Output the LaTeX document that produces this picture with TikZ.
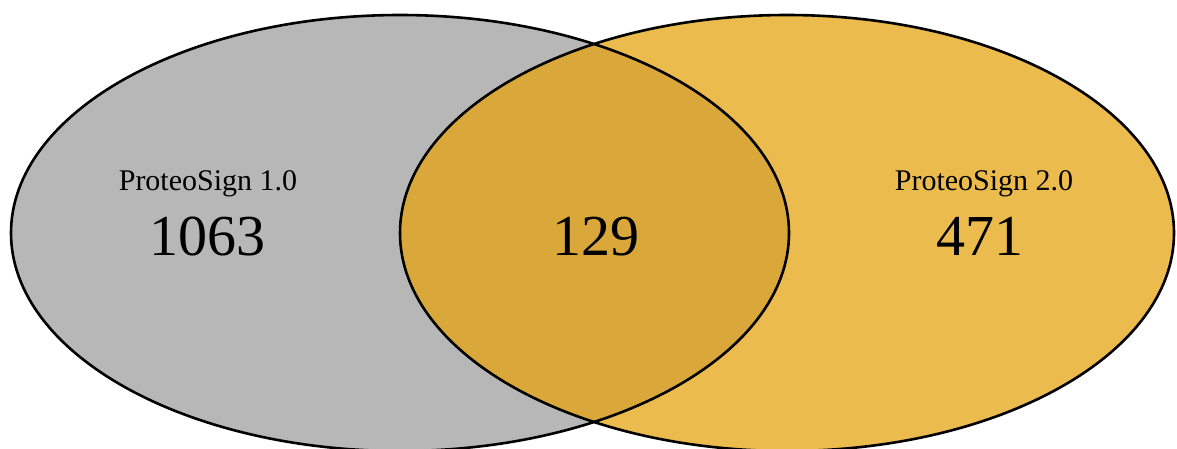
\documentclass[tikz,border=0pt]{standalone}
\usepackage{fontspec}
\setmainfont{Liberation Serif}
\usetikzlibrary{positioning}
\definecolor{setgray}{RGB}{183,183,183}
\definecolor{setgold}{RGB}{236,187,77}
\definecolor{setboth}{RGB}{217,167,58}

\begin{document}
\begin{tikzpicture}[x=1pt,y=-1pt,
 setline/.style={draw=black,line width=2.6pt},
 setname/.style={font=\fontsize{30}{30}\selectfont,anchor=base},
 setcount/.style={font=\fontsize{58}{58}\selectfont,anchor=base}]
\useasboundingbox (0,0) rectangle (1177,448);
% the two sets
\fill[setgray] (400,233) ellipse [x radius=389,y radius=218];
\fill[setgold] (787,233) ellipse [x radius=387,y radius=218];
\begin{scope}
 \clip (400,233) ellipse [x radius=389,y radius=218];
 \fill[setboth] (787,233) ellipse [x radius=387,y radius=218];
\end{scope}
\draw[setline] (400,233) ellipse [x radius=389,y radius=218];
\draw[setline] (787,233) ellipse [x radius=387,y radius=218];
% labels and counts
\node[setname] (nameA) at (208,190) {ProteoSign 1.0};
\node[setcount] (countA) at (207,255) {1063};
\node[setcount] (countAB) at (596,255) {129};
\node[setname] (nameB) at (984,190) {ProteoSign 2.0};
\node[setcount] (countB) at (980,255) {471};
\end{tikzpicture}
\end{document}
